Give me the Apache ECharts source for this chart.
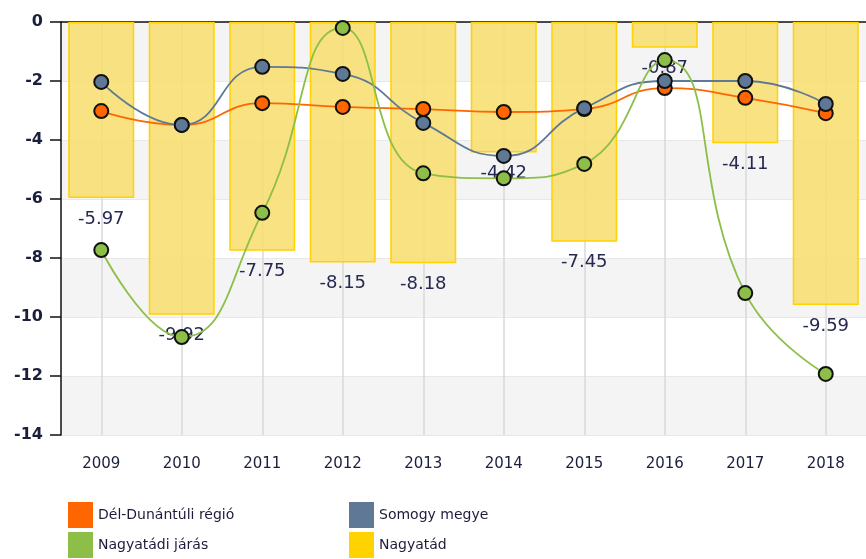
<!DOCTYPE html>
<html>
<head>
<meta charset="utf-8">
<script src="https://cdn.jsdelivr.net/npm/echarts@6/dist/echarts.min.js"></script>
<style>
html,body{margin:0;padding:0;background:#fff;}
#main{width:866px;height:559px;}
</style>
</head>
<body>
<div id="main"></div>
<script>
const years = ['2009','2010','2011','2012','2013','2014','2015','2016','2017','2018'];
const regio = [-3.02, -3.49, -2.75, -2.88, -2.95, -3.05, -2.95, -2.24, -2.57, -3.09];
const megye = [-2.03, -3.49, -1.52, -1.76, -3.42, -4.54, -2.92, -2.0, -2.0, -2.78];
const jaras = [-7.73, -10.68, -6.47, -0.2, -5.13, -5.3, -4.81, -1.29, -9.19, -11.93];
const varos = [-5.97, -9.92, -7.75, -8.15, -8.18, -4.42, -7.45, -0.87, -4.11, -9.59];
const yTicks = [0, -2, -4, -6, -8, -10, -12, -14];

const names = ['Dél-Dunántúli régió', 'Somogy megye', 'Nagyatádi járás', 'Nagyatád'];
const colors = ['#FF6600', '#5F7896', '#8DBF48', '#FFD200'];

const chart = echarts.init(document.getElementById('main'), null, {renderer:'canvas'});
const FONT = 'DejaVu Sans';
const lineSeries = (name, data, color, z) => ({
  name: name, type: 'line', data: data, smooth: 0.5, z: z,
  symbol: 'circle', symbolSize: 14,
  lineStyle: {color: color, width: 1.8},
  itemStyle: {color: color, borderColor: '#111', borderWidth: 2},
  emphasis: {disabled: true}
});
const legendAt = (idx, left, top) => ({
  left: left, top: top, itemWidth: 25, itemHeight: 26, icon: 'rect', padding: 0,
  textStyle: {fontSize: 14, color: '#1c1c3a', fontFamily: FONT},
  data: [{name: names[idx], itemStyle: {color: colors[idx], opacity: 1, borderWidth: 0}}]
});
chart.setOption({
  animation: false,
  textStyle: {fontFamily: FONT},
  grid: {left: 61, top: 22, right: -9, bottom: 124, containLabel: false},
  legend: [
    legendAt(0, 68, 502),
    legendAt(2, 68, 532),
    legendAt(1, 349, 502),
    legendAt(3, 349, 532)
  ],
  xAxis: {
    type: 'category', data: years, boundaryGap: true,
    axisLine: {lineStyle: {color: '#111', width: 1.5}},
    axisTick: {alignWithLabel: true, length: 9, lineStyle: {color: '#111', width: 1.5}},
    axisLabel: {margin: 22, fontSize: 15, color: '#1a1f3c', fontFamily: FONT},
    splitLine: {show: true, alignWithLabel: true, lineStyle: {color: '#d9d9d9', width: 1.5}}
  },
  yAxis: {
    type: 'value', min: -14, max: 0, interval: 2,
    axisLine: {show: true, lineStyle: {color: '#111', width: 1.5}},
    axisTick: {show: true, length: 11, lineStyle: {color: '#111', width: 1.5}},
    axisLabel: {margin: 18, fontSize: 16, fontWeight: 'bold', color: '#1a1f3c', fontFamily: FONT},
    splitLine: {show: true, lineStyle: {color: '#e8e8e8', width: 1}},
    splitArea: {show: true, areaStyle: {color: ['#f4f4f4', '#ffffff']}}
  },
  series: [
    {
      name: names[3], type: 'bar', data: varos, barCategoryGap: '18%', z: 2,
      itemStyle: {color: 'rgba(247,222,112,0.88)', borderColor: '#FFD200', borderWidth: 1.5},
      label: {show: true, position: 'bottom', distance: 12, fontSize: 18, color: '#262a50', fontFamily: FONT},
      emphasis: {disabled: true}
    },
    lineSeries(names[0], regio, colors[0], 3),
    lineSeries(names[1], megye, colors[1], 4),
    lineSeries(names[2], jaras, colors[2], 5)
  ]
});
</script>
</body>
</html>
